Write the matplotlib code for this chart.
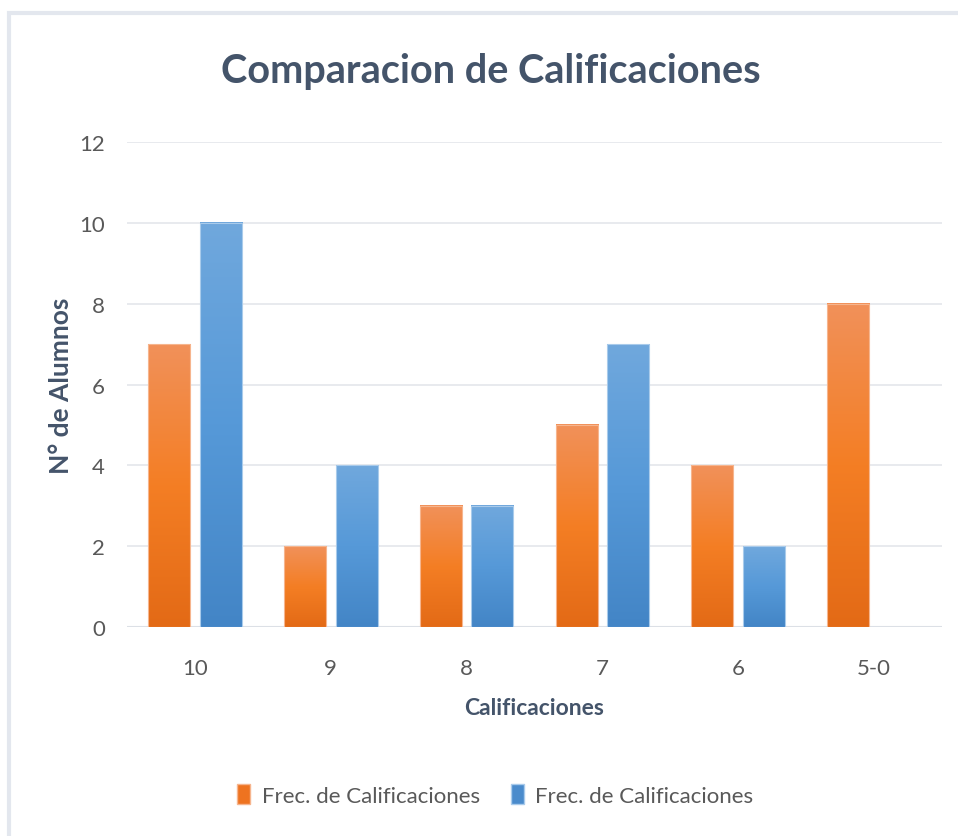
import matplotlib.pyplot as plt
import matplotlib.colors as mcolors
import numpy as np
from matplotlib.patches import Rectangle

plt.rcParams['font.family'] = ['Lato', 'DejaVu Sans']

categorias = ["10", "9", "8", "7", "6", "5-0"]
frec_naranja = [7, 2, 3, 5, 4, 8]
frec_azul = [10, 4, 3, 7, 2, 0]
etiqueta_serie = "Frec. de Calificaciones"
y_ticks = [0, 2, 4, 6, 8, 10, 12]

# degradados tipo Excel (arriba -> abajo)
grad_naranja = ["#F1915A", "#F47E24", "#E36A16"]
grad_azul = ["#70A8DD", "#5699D8", "#4385C6"]

fig = plt.figure(figsize=(9.58, 8.37), dpi=100)
fig.patch.set_facecolor("white")

# marco gris del grafico
fig.patches.append(Rectangle((8.5 / 958, -0.1), 1.2, 1 - 13.5 / 837 + 0.1,
                             transform=fig.transFigure, fill=False,
                             edgecolor="#E3E7EE", linewidth=3))

ax = fig.add_axes([127 / 958, 1 - 628 / 837, 815 / 958, 485 / 837])

x = np.arange(len(categorias))
ancho = 0.31
desp = 0.19


def barras_degradado(xs, vals, colores, borde):
    cmap = mcolors.LinearSegmentedColormap.from_list("g", colores[::-1])
    barras = ax.bar(xs, vals, ancho, color="none", edgecolor="none", zorder=3)
    for b in barras:
        h = b.get_height()
        if h <= 0:
            continue
        x0 = b.get_x()
        w = b.get_width()
        grad = np.linspace(0, 1, 256).reshape(-1, 1)
        ax.imshow(grad, extent=(x0, x0 + w, 0, h), origin="lower", cmap=cmap,
                  aspect="auto", zorder=3, interpolation="bicubic")
        ax.add_patch(Rectangle((x0, 0), w, h, fill=False, edgecolor=borde,
                               linewidth=0.8, zorder=4))
    return barras


barras_degradado(x - desp, frec_naranja, grad_naranja, "#F6B58E")
barras_degradado(x + desp, frec_azul, grad_azul, "#A9CBEB")
ax.set_xlim(-0.5, 5.5)
ax.set_ylim(0, 12)
ax.set_aspect("auto")

ax.set_yticks(y_ticks)
ax.set_xticks(x)
ax.set_xticklabels(categorias)
ax.grid(axis="y", color="#E4E6EB", linewidth=1.2, zorder=0)
ax.set_axisbelow(True)
for s in ax.spines.values():
    s.set_visible(False)
ax.axhline(0, color="#DCE0E6", linewidth=1.5, zorder=2)
ax.tick_params(axis="both", length=0, labelsize=16, labelcolor="#595959")
ax.tick_params(axis="y", pad=16)
ax.tick_params(axis="x", pad=22)

ax.set_xlabel("Calificaciones", fontsize=16.5, fontweight="bold",
              color="#44546A", labelpad=14)
ax.set_ylabel("N° de Alumnos", fontsize=19, fontweight="bold",
              color="#44546A", labelpad=4)

fig.text(0.512, 1 - 72 / 837, "Comparacion de Calificaciones", ha="center",
         va="center", fontsize=28.5, fontweight="bold", color="#44546A")

h1 = Rectangle((0, 0), 1, 1, facecolor="#EE7320", edgecolor="#F6B58E")
h2 = Rectangle((0, 0), 1, 1, facecolor="#4A8BCC", edgecolor="#A9CBEB")
fig.legend([h1, h2], [etiqueta_serie, etiqueta_serie], loc="center",
           bbox_to_anchor=(0.517, 1 - 796 / 837), ncol=2, frameon=False,
           fontsize=16, labelcolor="#595959", handlelength=0.6,
           handleheight=1.0, handletextpad=0.5, columnspacing=1.4)

fig.savefig("out.png", dpi=100, facecolor="white")
